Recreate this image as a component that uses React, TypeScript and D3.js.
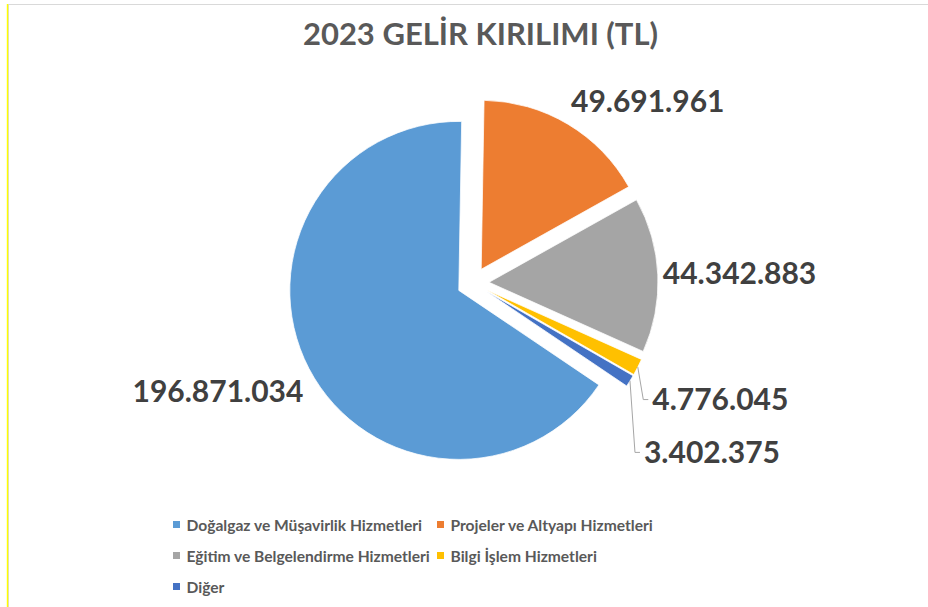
import React from "react";
import * as d3 from "d3";

const WIDTH = 928;
const HEIGHT = 607;
const CX = 473;
const CY = 283;
const RADIUS = 169;
const EXPLODE = 16;
const FIRST_SLICE = 124; // degrees, like Excel's "angle of first slice"
const FONT = "Lato, 'Open Sans', sans-serif";

const TITLE = "2023 GELİR KIRILIMI (TL)";
const categories = [
  "Doğalgaz ve Müşavirlik Hizmetleri",
  "Projeler ve Altyapı Hizmetleri",
  "Eğitim ve Belgelendirme Hizmetleri",
  "Bilgi İşlem Hizmetleri",
  "Diğer"
];
const values = [196871034, 49691961, 44342883, 4776045, 3402375];
const colors = ["#5B9BD5", "#ED7D31", "#A5A5A5", "#FFC000", "#4472C4"];

// thin slices: label pulled away on a leader line (dx, dy from the slice edge)
const leaderOffsets: Record<number, [number, number]> = {
  3: [14.5, 32.5],
  4: [14, 71.5]
};

const trFormat = d3.formatLocale({
  decimal: ",",
  thousands: ".",
  grouping: [3],
  currency: ["", " TL"]
}).format(",d");

const rad = (deg: number) => (deg * Math.PI) / 180;
const clamp = (v: number) => Math.max(-1, Math.min(1, v));

const App = () => {
  const pie = d3
    .pie<number>()
    .sort(null)
    .value((d) => d)
    .startAngle(rad(FIRST_SLICE))
    .endAngle(rad(FIRST_SLICE) + 2 * Math.PI);
  const arc = d3.arc<d3.PieArcDatum<number>>().innerRadius(0).outerRadius(RADIUS);
  const slices = pie(values);

  const labelSize = 30;
  const boxH = 40;

  return (
    <svg
      width={WIDTH}
      height={HEIGHT}
      style={{ position: "absolute", left: 0, top: 0, background: "#fff" }}
      fontFamily={FONT}
    >
      {/* chart frame */}
      <rect x={8.5} y={4.5} width={WIDTH} height={HEIGHT} fill="#fff" stroke="#D9D9D9" />
      <line x1={7.5} y1={4} x2={7.5} y2={HEIGHT} stroke="#FFFF00" strokeWidth={1.4} />

      <text
        x={480.5}
        y={45}
        textAnchor="middle"
        fontSize={31}
        fontWeight="bold"
        fill="#595959"
      >
        {TITLE}
      </text>

      {slices.map((s, i) => {
        const mid = (s.startAngle + s.endAngle) / 2;
        const sx = Math.sin(mid);
        const sy = -Math.cos(mid);
        const ox = CX + EXPLODE * sx;
        const oy = CY + EXPLODE * sy;
        return (
          <path
            key={categories[i]}
            d={arc(s) || ""}
            transform={`translate(${ox},${oy})`}
            fill={colors[i]}
            stroke="#fff"
            strokeWidth={0.75}
          />
        );
      })}

      {slices.map((s, i) => {
        const mid = (s.startAngle + s.endAngle) / 2;
        const sx = Math.sin(mid);
        const sy = -Math.cos(mid);
        const ox = CX + EXPLODE * sx;
        const oy = CY + EXPLODE * sy;
        const label = trFormat(values[i]);
        const leader = leaderOffsets[i];
        if (leader) {
          const ex = ox + RADIUS * sx;
          const ey = oy + RADIUS * sy;
          const lx = ex + leader[0];
          const ly = ey + leader[1];
          return (
            <g key={"l" + i}>
              <polyline
                points={`${ex},${ey} ${lx - 9},${ly} ${lx - 4},${ly}`}
                fill="none"
                stroke="#A6A6A6"
                strokeWidth={1}
              />
              <text
                x={lx}
                y={ly + 0.34 * labelSize}
                fontSize={labelSize}
                fontWeight="bold"
                fill="#404040"
              >
                {label}
              </text>
            </g>
          );
        }
        const px = ox + (RADIUS + 4) * sx;
        const py = oy + (RADIUS + 4) * sy;
        const centerY = py + (boxH / 2) * clamp(sy * 2.5);
        return (
          <text
            key={"l" + i}
            x={px + (sx >= 0 ? 1 : -2)}
            y={centerY + 0.38 * labelSize}
            textAnchor={sx >= 0 ? "start" : "end"}
            fontSize={labelSize}
            fontWeight="bold"
            fill="#404040"
          >
            {label}
          </text>
        );
      })}

      {categories.map((c, i) => {
        const col = i % 2;
        const row = Math.floor(i / 2);
        const mx = col === 0 ? 173 : 437;
        const by = 531 + row * 31;
        return (
          <g key={"lg" + i}>
            <rect x={mx} y={by - 10} width={7} height={7} fill={colors[i]} />
            <text x={mx + 13.5} y={by} fontSize={15.6} fontWeight="bold" fill="#595959">
              {c}
            </text>
          </g>
        );
      })}
    </svg>
  );
};

export default App;
